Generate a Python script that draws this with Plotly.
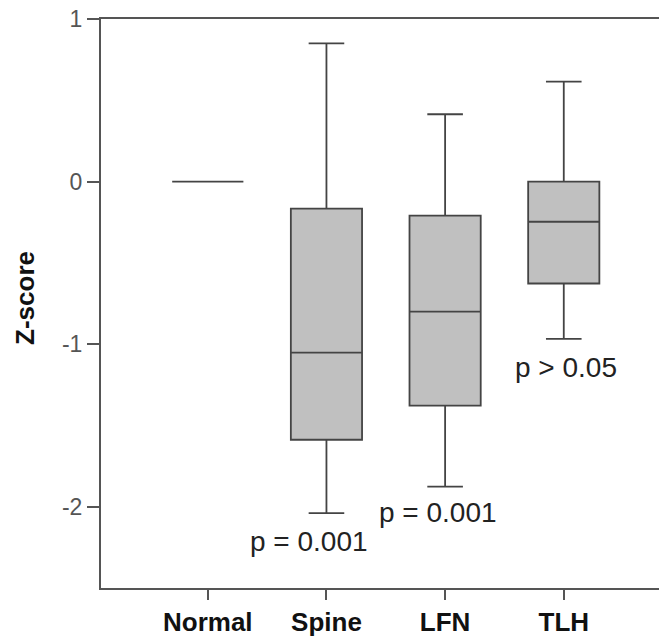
import plotly.graph_objects as go

categories = ["Normal", "Spine", "LFN", "TLH"]
positions = [0, 1, 2, 3]
upper = [0.0, 0.85, 0.414, 0.615]
q3 = [0.0, -0.166, -0.209, 0.0]
median = [0.0, -1.052, -0.80, -0.247]
q1 = [0.0, -1.588, -1.378, -0.627]
lower = [0.0, -2.04, -1.877, -0.967]

p_texts = ["p = 0.001", "p = 0.001", "p > 0.05"]
p_x = [0.855, 1.942, 3.016]
p_y = [-2.216, -2.037, -1.144]

y_ticks = [1, 0, -1, -2]

FONT = "Liberation Sans, Arial, sans-serif"

fig = go.Figure()
fig.add_trace(go.Box(
    x=positions,
    q1=q1, median=median, q3=q3,
    lowerfence=lower, upperfence=upper,
    width=0.6,
    whiskerwidth=0.5,
    fillcolor="#c0c0c0",
    line=dict(color="#444444", width=1.8),
    boxpoints=False,
    hoverinfo="skip",
    showlegend=False,
))

for t, xx, yy in zip(p_texts, p_x, p_y):
    fig.add_annotation(x=xx, y=yy, text=t, showarrow=False,
                       xanchor="center", yanchor="middle",
                       font=dict(family=FONT, size=28, color="#222222"))

fig.add_annotation(xref="paper", yref="paper", x=-0.134, y=0.51,
                   text="<b>Z-score</b>", textangle=-90, showarrow=False,
                   xanchor="center", yanchor="middle",
                   font=dict(family=FONT, size=26, color="#111111"))

# page body has an 8px default margin; compensate so the plot area
# lands at x 101-667, y 19-588 in the window
fig.update_layout(
    width=659, height=631,
    margin=dict(l=93, r=0, t=11, b=51),
    paper_bgcolor="white", plot_bgcolor="white",
    font=dict(family=FONT),
    xaxis=dict(
        range=[-0.9, 3.87],
        tickmode="array", tickvals=positions,
        ticktext=["<b>%s</b>" % c for c in categories],
        tickfont=dict(family=FONT, size=26, color="#111111"),
        ticks="outside", ticklen=10, tickwidth=1.5, tickcolor="#555555",
        showline=True, linecolor="#555555", linewidth=2, mirror=True,
        showgrid=False, zeroline=False, automargin=False,
    ),
    yaxis=dict(
        range=[-2.5, 1],
        tickmode="array", tickvals=y_ticks,
        ticktext=[str(v) for v in y_ticks],
        tickfont=dict(family=FONT, size=23, color="#555555"),
        ticks="outside", ticklen=12, tickwidth=1.5, tickcolor="#555555",
        ticklabeloverflow="allow",
        showline=True, linecolor="#555555", linewidth=2,
        showgrid=False, zeroline=False, automargin=False,
    ),
)

fig.write_html("out.html")
